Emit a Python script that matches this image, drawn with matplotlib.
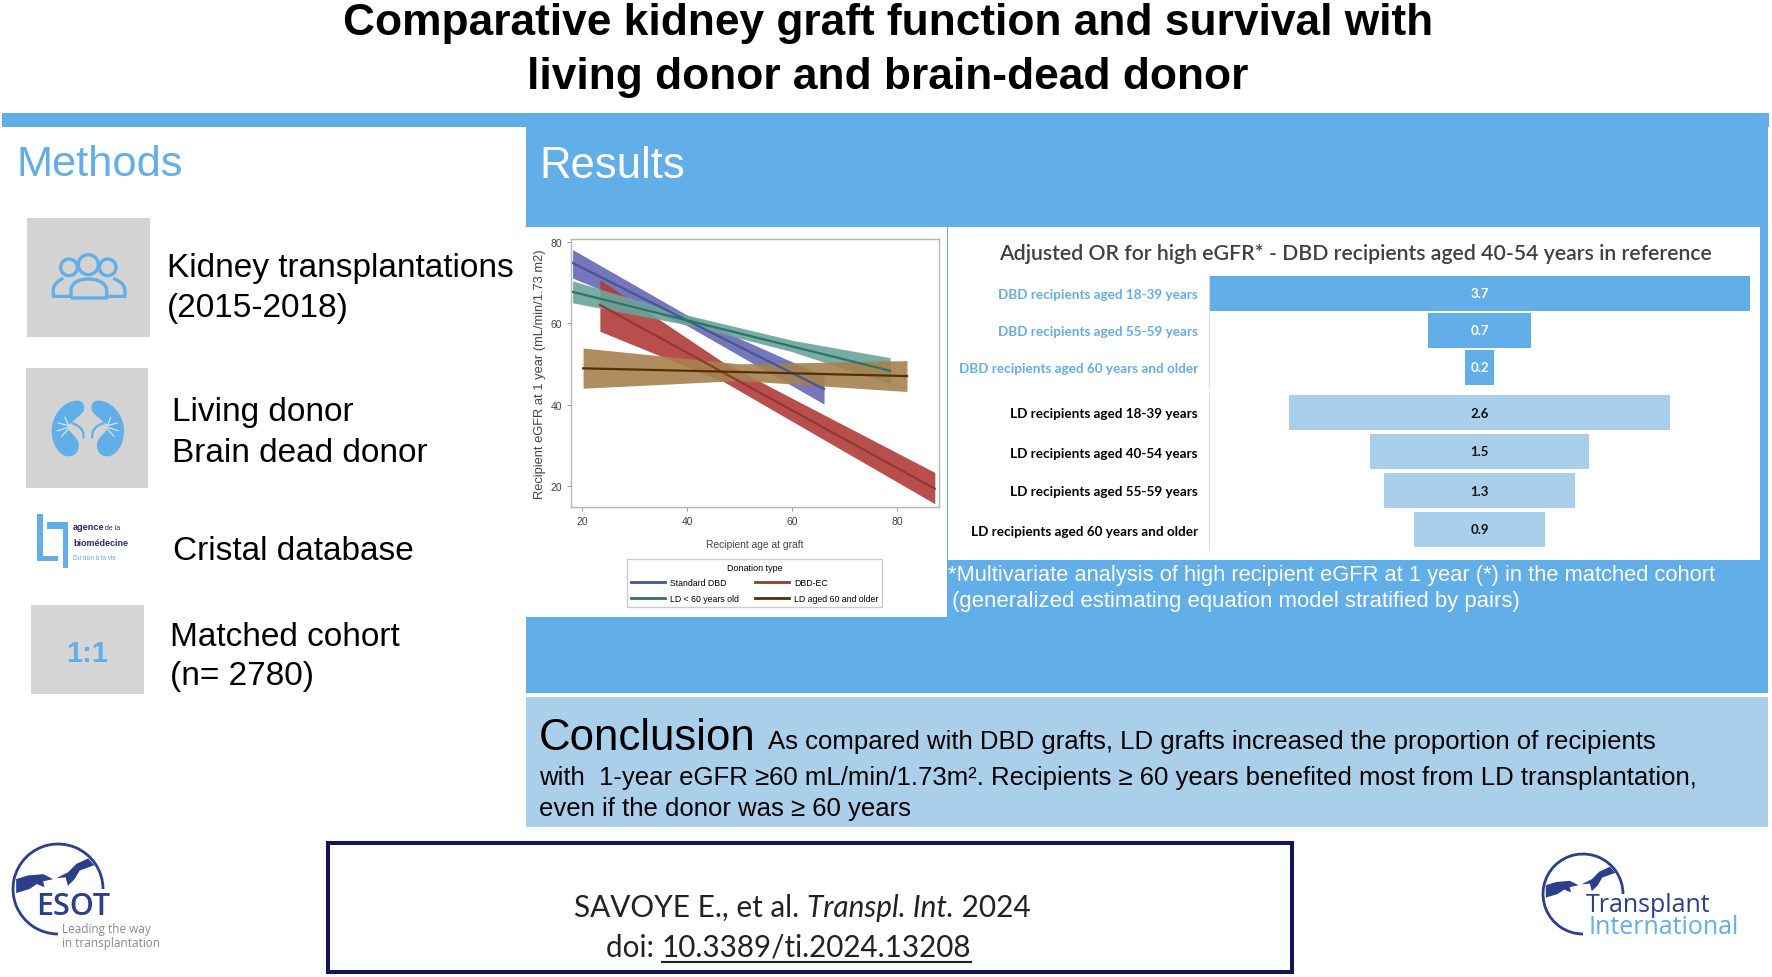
import numpy as np
import matplotlib
matplotlib.use('Agg')
import matplotlib.pyplot as plt
from matplotlib.patches import Rectangle, Circle, Arc, Polygon, PathPatch
from matplotlib.path import Path

# line chart values
std_x = [18.2, 40, 66.1]
std_mid = [74.8, 60.7, 43.8]
std_up = [78.1, 62.0, 47.0]
std_lo = [71.1, 59.4, 40.1]

ec_x = [23.4, 47, 87.2]
ec_mid = [64.5, 47.8, 19.3]
ec_up = [70.7, 50.3, 23.3]
ec_lo = [58.0, 45.6, 15.6]

ld_x = [18.2, 40, 60, 78.7]
ld_mid = [67.7, 60.7, 54.3, 48.3]
ld_up = [70.4, 62.0, 55.8, 51.5]
ld_lo = [65.0, 59.6, 53.0, 45.1]

old_x = [20.2, 50, 81.9]
old_mid = [48.9, 48.0, 47.0]
old_up = [53.9, 50.0, 50.8]
old_lo = [44.0, 45.9, 43.2]

# funnel values
dbd_labels = ['DBD recipients aged 18-39 years', 'DBD recipients aged 55-59 years',
              'DBD recipients aged 60 years and older']
dbd_or = np.array([3.7, 0.7, 0.2])
ld_labels = ['LD recipients aged 18-39 years', 'LD recipients aged 40-54 years',
             'LD recipients aged 55-59 years', 'LD recipients aged 60 years and older']
ld_or = np.array([2.6, 1.5, 1.3, 0.9])

BLUE = '#61AEE8'
LIGHT = '#AACFEB'
NAVY = '#2B3F8C'
ARIAL = 'Liberation Sans'
CALIBRI = 'Lato'

W, H = 1772, 978
fig = plt.figure(figsize=(W / 100, H / 100), dpi=100)

# one big axes in pixels for everything that is not a chart
bg = fig.add_axes([0, 0, 1, 1])
bg.set_xlim(0, W)
bg.set_ylim(H, 0)
bg.axis('off')


def px_axes(x0, y0, x1, y1):
    return fig.add_axes([x0 / W, 1 - y1 / H, (x1 - x0) / W, (y1 - y0) / H])


def put(x, y, s, size, color='black', family=ARIAL, **kw):
    kw.setdefault('va', 'center')
    return bg.text(x, y, s, fontsize=size, color=color, family=family, **kw)


def rect(x0, y0, x1, y1, color, **kw):
    bg.add_patch(Rectangle((x0, y0), x1 - x0, y1 - y0, facecolor=color, edgecolor='none', **kw))


def curve(verts, codes, **kw):
    bg.add_patch(PathPatch(Path(verts, codes), **kw))


# panels
rect(2, 114, 1769, 128, BLUE)
rect(526, 128, 1768, 694, BLUE)
rect(526, 698, 1768, 828, LIGHT)
rect(525, 228, 947, 618, 'white')
rect(948, 228, 1760, 561, 'white')
rect(27, 219, 150, 338, '#D3D3D3')
rect(26, 369, 148, 489, '#D3D3D3')
rect(31, 606, 144, 695, '#D6D6D6')

# title
put(888, 23, 'Comparative kidney graft function and survival with', 31.9, ha='center', weight='bold')
put(888, 77, 'living donor and brain-dead donor', 31.9, ha='center', weight='bold')

put(16, 165, 'Methods', 31.2, color=BLUE)
put(539, 166, 'Results', 31.4, color='white')

# methods column
put(167, 269, 'Kidney transplantations', 24)
put(167, 309, '(2015-2018)', 24)
put(172, 412, 'Living donor', 24)
put(172, 453, 'Brain dead donor', 24)
put(173, 551, 'Cristal database', 24)
put(170, 637, 'Matched cohort', 24)
put(170, 676, '(n= 2780)', 24)
put(87, 654, '1:1', 21, color=BLUE, ha='center', weight='bold')


# icon coordinates were measured on a 3x crop
def z(x, y):
    return (x / 3, 200 + y / 3)


# people icon
for cx, cy, r in [(207, 205, 25), (323, 205, 25), (265, 197, 30)]:
    c = z(cx, cy)
    bg.add_patch(Circle(c, r / 3, facecolor='none', edgecolor=BLUE, lw=2.4))
M, L, C = Path.MOVETO, Path.LINETO, Path.CURVE4
icon = dict(facecolor='none', edgecolor=BLUE, lw=2.4, joinstyle='round')
curve([z(*p) for p in [(213, 297), (213, 275), (213, 250), (240, 240), (265, 240), (290, 240), (320, 250), (320, 275), (320, 297), (213, 297)]],
      [M, L, C, C, C, C, C, C, L, L], **icon)
curve([z(*p) for p in [(190, 238), (175, 245), (160, 255), (160, 275), (160, 292), (213, 292)]],
      [M, C, C, C, L, L], **icon)
curve([z(*p) for p in [(340, 238), (355, 245), (375, 255), (375, 275), (375, 292), (320, 292)]],
      [M, C, C, C, L, L], **icon)

# kidneys
kidney = [(232, 605), (190, 605), (155, 650), (155, 695), (155, 740), (180, 772), (205, 772),
          (230, 772), (240, 750), (235, 730), (230, 710), (205, 700), (205, 685),
          (205, 670), (250, 650), (252, 630), (254, 612), (245, 605), (232, 605)]
kcodes = [M] + [C] * 18
for flip in (False, True):
    fx = (lambda x: 527 - x) if flip else (lambda x: x)
    curve([z(fx(x), y) for x, y in kidney], kcodes, facecolor=BLUE, edgecolor='none')
    for x0, y0, x1, y1 in [(205, 680, 175, 672), (205, 685, 172, 695), (205, 690, 185, 712), (205, 680, 195, 655)]:
        a, b = z(fx(x0), y0), z(fx(x1), y1)
        bg.plot([a[0], b[0]], [a[1], b[1]], color='#CFE6F7', lw=0.9)
    curve([z(fx(x), y) for x, y in [(205, 680), (230, 685), (245, 700), (250, 720)]], [M, C, C, C],
          facecolor='none', edgecolor='#D3D3D3', lw=3.2, zorder=3)
    curve([z(fx(x), y) for x, y in [(215, 672), (240, 680), (254, 695), (250, 718)]], [M, C, C, C],
          facecolor='none', edgecolor=BLUE, lw=1.6, zorder=3)

# agence de la biomedecine logo
for x0, y0, x1, y1 in [(112, 945, 128, 1085), (112, 1070, 175, 1085), (142, 968, 205, 990), (190, 968, 205, 1108)]:
    a, b = z(x0, y0), z(x1, y1)
    rect(a[0], a[1], b[0], b[1], BLUE)
put(73, 527, 'agence', 6.6, color='#2A2A6E', weight='bold')
put(105, 528, 'de la', 5, color='#2A2A6E')
put(73, 543, 'biomédecine', 6.5, color='#2A2A6E', weight='bold')
put(73, 559, 'Du don à la vie', 4.7, color=BLUE)


# the two journal logos share the same hands
def hands_logo(cx, cy, r):
    bg.add_patch(Arc((cx, cy), 2 * r, 2 * r, theta1=90, theta2=360, edgecolor=NAVY, lw=2))
    left = [(-0.93, -0.22), (-0.67, -0.30), (-0.33, -0.33), (-0.11, -0.22), (-0.33, -0.17), (-0.30, -0.04),
            (-0.47, -0.11), (-0.63, 0.0), (-0.93, 0.09)]
    right = [(0.67, -0.68), (0.41, -0.56), (0.22, -0.37), (-0.04, -0.24), (0.17, -0.26), (0.22, -0.07),
             (0.37, -0.22), (0.48, -0.41), (0.81, -0.53)]
    for pts in (left, right):
        bg.add_patch(Polygon([(cx + a * r, cy + b * r) for a, b in pts], facecolor=NAVY, edgecolor='none'))


hands_logo(58, 890, 45)
put(36, 907, 'ESOT', 22, color=NAVY, family='Open Sans', weight='semibold')
put(62, 930, 'Leading the way', 8.5, color='#8A8A8A', family='Open Sans')
put(62, 943, 'in transplantation', 8.5, color='#8A8A8A', family='Open Sans')

hands_logo(1583, 895, 40)
put(1586, 906, 'Transplant', 18, color=NAVY, family='Open Sans')
put(1589, 927, 'International', 18, color=BLUE, family='Open Sans')

# footnote under the funnel
put(948, 575, '*Multivariate analysis of high recipient eGFR at 1 year (*) in the matched cohort', 15.75, color='white')
put(952, 601, '(generalized estimating equation model stratified by pairs)', 15.9, color='white')

# conclusion
put(539, 738, 'Conclusion', 31.5)
put(768, 742, 'As compared with DBD grafts, LD grafts increased the proportion of recipients', 18.5)
put(539, 778, 'with  1-year eGFR ≥60 mL/min/1.73m². Recipients ≥ 60 years benefited most from LD transplantation,', 18.5)
put(539, 809, 'even if the donor was ≥ 60 years', 18.5)

# citation box
bg.add_patch(Rectangle((328, 844), 964, 129, facecolor='white', edgecolor='#14145A', lw=2.9))
renderer = fig.canvas.get_renderer()
x = 574
for part, style in [('SAVOYE E., et al. ', 'normal'), ('Transpl. Int.', 'italic'), (' 2024', 'normal')]:
    tx = put(x, 908, part.replace(' ', '\u00a0'), 21.4, color='#222222', family=CALIBRI, style=style)
    x = tx.get_window_extent(renderer).x1
tx = put(606, 948, 'doi:\u00a0', 21.3, color='#222222', family=CALIBRI)
x = tx.get_window_extent(renderer).x1
tx = put(x, 948, '10.3389/ti.2024.13208', 21.3, color='#222222', family=CALIBRI)
ext = tx.get_window_extent(renderer)
bg.plot([ext.x0, ext.x1], [963, 963], color='#222222', lw=1.5)

# line chart
ax = px_axes(571, 240, 939, 508)
groups = [('Standard DBD', std_x, std_mid, std_up, std_lo, '#445694', '#6767B5'),
          ('DBD-EC', ec_x, ec_mid, ec_up, ec_lo, '#8E3A32', '#B23C3A'),
          ('LD < 60 years old', ld_x, ld_mid, ld_up, ld_lo, '#2A7468', '#6BA39B'),
          ('LD aged 60 and older', old_x, old_mid, old_up, old_lo, '#543005', '#A5824F')]
handles = {}
for name, xs, mid, up, lo, col, fill in groups:
    ax.fill_between(xs, lo, up, color=fill, alpha=0.9, linewidth=0)
    handles[name] = ax.plot(xs, mid, color=col, lw=1.6, label=name)[0]
ax.set_xlim(17.9, 88)
ax.set_ylim(14.8, 80.7)
ax.set_xticks([20, 40, 60, 80])
ax.set_yticks([20, 40, 60, 80])
ax.tick_params(labelsize=7.5, colors='#444444', length=3, width=0.7, color='#999999')
for lab in ax.get_xticklabels() + ax.get_yticklabels():
    lab.set_family(ARIAL)
ax.set_xlabel('Recipient age at graft', fontsize=7.4, family=ARIAL, color='#444444', labelpad=9)
ax.set_ylabel('Recipient eGFR at 1 year (mL/min/1.73 m2)', fontsize=9.3, family=ARIAL, color='#444444', labelpad=3)
for side in ax.spines.values():
    side.set_color('#B5B5B5')
    side.set_linewidth(1)
order = ['Standard DBD', 'LD < 60 years old', 'DBD-EC', 'LD aged 60 and older']
leg = ax.legend([handles[n] for n in order], order, ncol=2, title='Donation type', loc='center',
                bbox_to_anchor=(754.5, 584), bbox_transform=bg.transData,
                handlelength=3.9, columnspacing=1.8, handletextpad=0.6, labelspacing=0.75,
                fancybox=False, framealpha=1, edgecolor='#CCCCCC', prop={'family': ARIAL, 'size': 6.3},
                title_fontsize=6.5)
leg.get_title().set_family(ARIAL)
for line in leg.get_lines():
    line.set_linewidth(2)

# funnel: two axes, DBD on top and LD below
put(1355, 254, 'Adjusted OR for high eGFR* - DBD recipients aged 40-54 years in reference', 15.3,
    color='#404040', family=CALIBRI, ha='center', weight='semibold')

funnels = [(dbd_labels, dbd_or, BLUE, BLUE, 'white', 276, 387, 0.92),
           (ld_labels, ld_or, LIGHT, 'black', '#111111', 394, 550, 0.91)]
for labels, vals, col, labcol, valcol, y0, y1, h in funnels:
    fa = px_axes(1209, y0, 1750, y1)
    bars = fa.barh(labels, vals, left=-vals / 2, height=h, color=col)
    fa.bar_label(bars, fmt='%.1f', label_type='center', color=valcol, fontsize=9.5, family=CALIBRI, weight='bold')
    fa.set_xlim(-1.85, 1.85)
    fa.set_ylim(len(vals) - 0.5, -0.5)
    fa.set_xticks([])
    fa.tick_params(axis='y', length=0, pad=8, labelcolor=labcol)
    for lab in fa.get_yticklabels():
        lab.set_family(CALIBRI)
        lab.set_fontsize(9.7)
        lab.set_fontweight('bold')
    for name, side in fa.spines.items():
        side.set_visible(name == 'left')
    fa.spines['left'].set_color('#D9D9D9')
    fa.patch.set_alpha(0)

fig.savefig('out.png', dpi=100)
